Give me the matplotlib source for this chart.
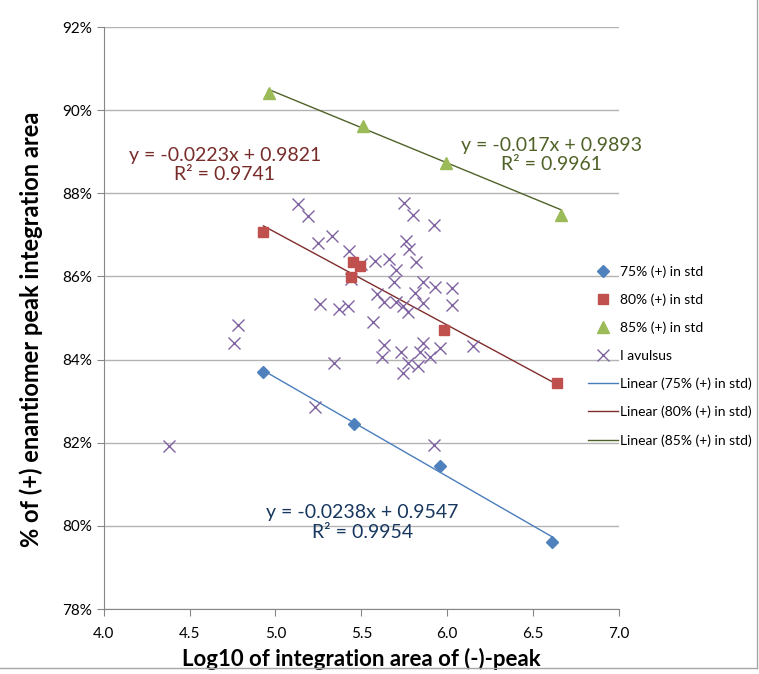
import numpy as np
import matplotlib
matplotlib.use("Agg")
import matplotlib.pyplot as plt
from matplotlib.lines import Line2D
from matplotlib.ticker import PercentFormatter, MultipleLocator, FormatStrFormatter

plt.rcParams['font.family'] = ['Lato', 'DejaVu Sans']

# standards (x = log10 of (-)-peak area, y = fraction of (+) enantiomer)
std75_x = [4.93, 5.46, 5.96, 6.61]
std75_y = [0.8369, 0.8244, 0.8144, 0.7962]
std80_x = [4.93, 5.45, 5.49, 5.44, 5.98, 6.64]
std80_y = [0.8707, 0.8635, 0.8625, 0.8598, 0.8471, 0.8343]
std85_x = [4.96, 5.51, 5.99, 6.66]
std85_y = [0.9041, 0.8962, 0.8873, 0.8749]

# I avulsus samples
avul_x = [4.38, 4.78, 4.76, 5.13, 5.19, 5.25, 5.26, 5.23, 5.33, 5.43,
          5.50, 5.58, 5.66, 5.70, 5.44, 5.69, 5.59, 5.63, 5.70, 5.37,
          5.42, 5.57, 5.63, 5.62, 5.34, 5.75, 5.80, 5.92, 5.76, 5.78,
          5.82, 5.86, 5.93, 6.03, 5.81, 5.74, 5.77, 5.86, 6.03, 5.73,
          5.86, 5.84, 5.96, 5.90, 6.15, 5.77, 5.83, 5.74, 5.92]
avul_y = [0.8192, 0.8483, 0.8441, 0.8774, 0.8746, 0.8680, 0.8534, 0.8285, 0.8697, 0.8661,
          0.8630, 0.8638, 0.8641, 0.8615, 0.8595, 0.8586, 0.8557, 0.8539, 0.8539, 0.8521,
          0.8530, 0.8490, 0.8435, 0.8407, 0.8393, 0.8777, 0.8749, 0.8724, 0.8685, 0.8665,
          0.8635, 0.8587, 0.8575, 0.8573, 0.8559, 0.8529, 0.8515, 0.8535, 0.8531, 0.8419,
          0.8441, 0.8419, 0.8427, 0.8407, 0.8433, 0.8391, 0.8385, 0.8368, 0.8194]

# trend line coefficients as printed on the chart
slopes = [-0.0238, -0.0223, -0.017]
intercepts = [0.9547, 0.9821, 0.9893]
r2 = [0.9954, 0.9741, 0.9961]

fig = plt.figure(figsize=(7.59, 6.74), dpi=100)
ax = fig.add_axes([0.1366, 0.0964, 0.679, 0.8635])

ax.plot(std75_x, std75_y, linestyle='none', marker='D', ms=6, color='#4F81BD',
        label='75% (+) in std', zorder=4)
ax.plot(std80_x, std80_y, linestyle='none', marker='s', ms=7.5, color='#C0504D',
        label='80% (+) in std', zorder=4)
ax.plot(std85_x, std85_y, linestyle='none', marker='^', ms=8, color='#9BBB59',
        label='85% (+) in std', zorder=4)
ax.plot(avul_x, avul_y, linestyle='none', marker='x', ms=8, mew=1.0, color='#8064A2',
        label='I avulsus', zorder=3)

line_cols = ['#4A7EBB', '#7F2D2B', '#4F6228']
names = ['75% (+) in std', '80% (+) in std', '85% (+) in std']
for xs, m, b, c, n in zip([std75_x, std80_x, std85_x], slopes, intercepts, line_cols, names):
    xx = np.array([min(xs), max(xs)])
    ax.plot(xx, m * xx + b, color=c, lw=1.0, label=f'Linear ({n})', zorder=2)

# equation labels
eq_cols = ['#17375E', '#772C2A', '#4F6228']
eq_pos = [(5.506, 0.8008), (4.706, 0.8868), (6.609, 0.8892)]
for m, b, r, c, (px, py) in zip(slopes, intercepts, r2, eq_cols, eq_pos):
    ax.text(px, py, f'y = {m}x + {b}\nR² = {r}', color=c, fontsize=14,
            ha='center', va='center', linespacing=1.2)

ax.set_xlim(4.0, 7.0)
ax.set_ylim(0.78, 0.92)
ax.xaxis.set_major_locator(MultipleLocator(0.5))
ax.yaxis.set_major_locator(MultipleLocator(0.02))
ax.yaxis.set_major_formatter(PercentFormatter(1.0, decimals=0))
ax.xaxis.set_major_formatter(FormatStrFormatter('%.1f'))
ax.grid(axis='y', color='#B3B3B3', lw=1.0)
ax.set_axisbelow(True)
for s in ['top', 'right']:
    ax.spines[s].set_visible(False)
for s in ['left', 'bottom']:
    ax.spines[s].set_color('#868686')
ax.tick_params(axis='both', direction='out', length=5, color='#868686',
               labelsize=11, labelcolor='black')
ax.tick_params(axis='x', pad=8)

ax.set_xlabel('Log10 of integration area of (-)-peak', fontsize=16, fontweight='bold', labelpad=5)
ax.set_ylabel('% of (+) enantiomer peak integration area', fontsize=17, fontweight='bold')
ax.yaxis.set_label_coords(-0.118, 0.48)

fig.legend(loc='upper left', bbox_to_anchor=(0.7747, 0.6066), frameon=False, fontsize=10,
           numpoints=1, handlelength=2.16, handletextpad=0.14, labelspacing=1.13,
           borderpad=0, borderaxespad=0)

# chart-area border seen on the right and bottom edges
fig.add_artist(Line2D([757 / 759, 757 / 759], [1, 1 - 668 / 674], transform=fig.transFigure,
                      color='#A6A6A6', lw=1))
fig.add_artist(Line2D([0, 757 / 759], [1 - 668 / 674, 1 - 668 / 674], transform=fig.transFigure,
                      color='#A6A6A6', lw=1))

fig.savefig('out.png', dpi=100)
